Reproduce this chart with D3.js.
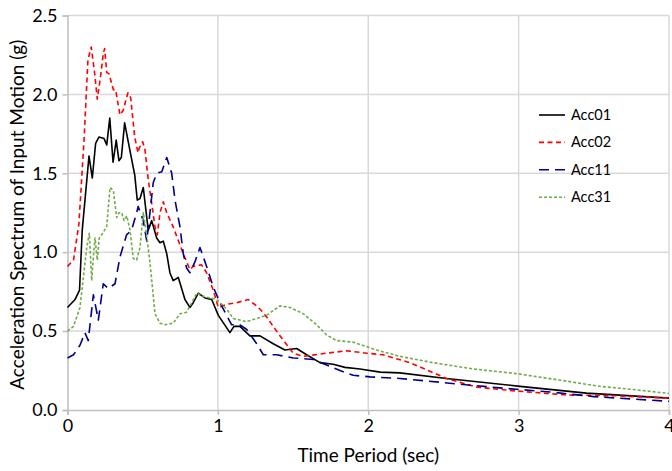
<!DOCTYPE html>
<html>
<head>
<meta charset="utf-8">
<script src="https://cdn.jsdelivr.net/npm/d3@7"></script>
<style>
  html, body { margin: 0; padding: 0; background: #fff; }
  svg { display: block; font-family: Lato, "Open Sans", sans-serif; }
</style>
</head>
<body>
<div id="chart"></div>
<script>
// Response spectra of the input motions: [period (sec), spectral acceleration (g)]
const acc01 = [
  [0.00,0.65],[0.05,0.70],[0.08,0.76],[0.098,1.14],[0.143,1.61],[0.165,1.47],[0.187,1.69],
  [0.209,1.73],[0.243,1.72],[0.261,1.68],[0.281,1.85],[0.303,1.57],[0.324,1.71],[0.342,1.58],
  [0.358,1.60],[0.380,1.82],[0.414,1.65],[0.447,1.49],[0.464,1.33],[0.482,1.34],[0.504,1.41],
  [0.527,1.22],[0.537,1.14],[0.56,1.20],[0.593,1.09],[0.615,1.06],[0.637,1.07],[0.66,0.99],
  [0.681,0.87],[0.703,0.82],[0.737,0.84],[0.781,0.70],[0.814,0.65],[0.836,0.68],[0.87,0.74],
  [0.914,0.71],[0.959,0.70],[1.003,0.60],[1.08,0.49],[1.107,0.53],[1.147,0.53],[1.213,0.47],
  [1.28,0.47],[1.368,0.42],[1.446,0.38],[1.524,0.39],[1.59,0.35],[1.679,0.30],[1.767,0.29],
  [1.845,0.27],[1.945,0.26],[2.08,0.24],[2.21,0.235],[2.52,0.20],[3.01,0.15],[3.45,0.107],[4.0,0.075]
];
const acc02 = [
  [0.00,0.91],[0.04,0.95],[0.076,1.18],[0.11,1.71],[0.136,2.22],[0.158,2.30],[0.181,2.13],
  [0.198,1.97],[0.221,2.12],[0.238,2.26],[0.247,2.29],[0.261,2.14],[0.276,2.13],[0.305,2.03],
  [0.32,2.03],[0.349,1.87],[0.371,1.90],[0.387,1.96],[0.402,2.01],[0.42,1.98],[0.447,1.73],
  [0.469,1.63],[0.477,1.66],[0.50,1.70],[0.515,1.65],[0.537,1.46],[0.56,1.31],[0.582,1.16],
  [0.597,1.11],[0.615,1.25],[0.637,1.32],[0.66,1.25],[0.703,1.16],[0.77,0.99],[0.814,0.89],
  [0.836,0.91],[0.892,0.92],[0.925,0.87],[0.969,0.76],[1.003,0.65],[1.058,0.67],[1.125,0.68],
  [1.202,0.70],[1.258,0.66],[1.30,0.62],[1.324,0.59],[1.39,0.50],[1.501,0.36],[1.568,0.34],
  [1.723,0.36],[1.856,0.375],[1.99,0.36],[2.098,0.35],[2.277,0.30],[2.52,0.20],[2.72,0.145],
  [2.99,0.12],[3.32,0.095],[3.65,0.09],[4.0,0.075]
];
const acc11 = [
  [0.00,0.33],[0.04,0.35],[0.083,0.41],[0.116,0.49],[0.138,0.44],[0.172,0.73],[0.205,0.57],
  [0.238,0.80],[0.271,0.77],[0.316,0.80],[0.349,0.97],[0.393,1.11],[0.426,1.14],[0.46,1.25],
  [0.47,1.29],[0.504,1.20],[0.527,1.07],[0.553,1.29],[0.57,1.44],[0.594,1.50],[0.627,1.51],
  [0.66,1.60],[0.693,1.50],[0.715,1.33],[0.748,1.16],[0.77,0.99],[0.792,0.90],[0.814,0.87],
  [0.848,0.94],[0.881,1.03],[0.903,0.97],[0.925,0.91],[0.969,0.78],[1.014,0.68],[1.058,0.60],
  [1.092,0.54],[1.147,0.54],[1.192,0.51],[1.258,0.42],[1.302,0.35],[1.39,0.35],[1.502,0.33],
  [1.635,0.32],[1.723,0.285],[1.812,0.25],[1.90,0.22],[2.012,0.21],[2.21,0.20],[2.54,0.17],
  [2.876,0.14],[3.21,0.114],[3.5,0.085],[4.0,0.055]
];
const acc31 = [
  [0.00,0.50],[0.04,0.53],[0.083,0.65],[0.128,1.03],[0.145,1.12],[0.161,0.82],[0.172,0.97],
  [0.183,1.09],[0.198,0.95],[0.211,1.09],[0.227,1.11],[0.26,1.16],[0.283,1.41],[0.305,1.39],
  [0.327,1.22],[0.342,1.25],[0.36,1.25],[0.376,1.20],[0.394,1.23],[0.416,1.14],[0.437,0.96],
  [0.46,0.95],[0.482,1.03],[0.504,1.25],[0.522,1.14],[0.549,0.93],[0.582,0.61],[0.615,0.55],
  [0.648,0.54],[0.703,0.55],[0.748,0.61],[0.792,0.62],[0.826,0.68],[0.859,0.74],[0.903,0.72],
  [0.992,0.70],[1.058,0.64],[1.102,0.58],[1.19,0.56],[1.324,0.60],[1.413,0.66],[1.48,0.65],
  [1.568,0.61],[1.657,0.54],[1.723,0.475],[1.79,0.44],[1.90,0.43],[2.056,0.38],[2.21,0.34],
  [2.43,0.30],[2.70,0.26],[2.99,0.23],[3.27,0.19],[3.54,0.15],[3.76,0.13],[4.0,0.105]
];

const seriesNames = ["Acc01", "Acc02", "Acc11", "Acc31"];
const seriesData = [acc01, acc02, acc11, acc31];
const xTicks = [0, 1, 2, 3, 4];
const yTicks = [0, 0.5, 1.0, 1.5, 2.0, 2.5];

// Stroke style per series
const styles = [
  { color: "#000000", dash: null,    width: 1.6 },
  { color: "#ff0000", dash: "5,3.5", width: 1.6 },
  { color: "#00008c", dash: "10,6",  width: 1.6 },
  { color: "#70ad47", dash: "3,2",   width: 1.6 }
];

const W = 672, H = 471;
const margin = { left: 67.5, right: 3, top: 15.5, bottom: 61 };

const svg = d3.select("#chart").append("svg").attr("width", W).attr("height", H);

const x = d3.scaleLinear().domain([0, 4]).range([margin.left, W - margin.right]);
const y = d3.scaleLinear().domain([0, 2.5]).range([H - margin.bottom, margin.top]);

// Gridlines
svg.append("g").selectAll("line.v").data(xTicks.filter(d => d > 0)).join("line")
  .attr("x1", d => x(d)).attr("x2", d => x(d))
  .attr("y1", y(0)).attr("y2", y(2.5))
  .attr("stroke", "#d9d9d9").attr("stroke-width", 1.5);
svg.append("g").selectAll("line.h").data(yTicks.filter(d => d > 0)).join("line")
  .attr("x1", x(0)).attr("x2", x(4))
  .attr("y1", d => y(d)).attr("y2", d => y(d))
  .attr("stroke", "#d9d9d9").attr("stroke-width", 1.5);

// Axes
const xAxis = d3.axisBottom(x).tickValues(xTicks).tickFormat(d3.format("d")).tickSize(5).tickPadding(4);
const yAxis = d3.axisLeft(y).tickValues(yTicks).tickFormat(d3.format(".1f")).tickSize(5).tickPadding(5);

const gx = svg.append("g").attr("transform", `translate(0,${y(0)})`).call(xAxis);
const gy = svg.append("g").attr("transform", `translate(${x(0)},0)`).call(yAxis);
[gx, gy].forEach(g => {
  g.select(".domain").attr("stroke", "#bfbfbf").attr("stroke-width", 1.5);
  g.selectAll(".tick line").attr("stroke", "#bfbfbf").attr("stroke-width", 1.5);
  g.selectAll(".tick text").attr("fill", "#000").style("font-size", "18px")
    .style("font-family", "Lato, 'Open Sans', sans-serif");
});

// Series lines
const line = d3.line().x(d => x(d[0])).y(d => y(d[1]));
seriesData.forEach((data, i) => {
  const s = styles[i];
  svg.append("path").datum(data)
    .attr("d", line)
    .attr("fill", "none")
    .attr("stroke", s.color)
    .attr("stroke-width", s.width)
    .attr("stroke-linejoin", "round")
    .attr("stroke-dasharray", s.dash);
});

// Axis titles
svg.append("text")
  .attr("x", (x(0) + x(4)) / 2).attr("y", 462)
  .attr("text-anchor", "middle").style("font-size", "19px")
  .text("Time Period (sec)");
svg.append("text")
  .attr("transform", `translate(24,${(y(0) + y(2.5)) / 2 + 2}) rotate(-90)`)
  .attr("text-anchor", "middle").style("font-size", "19px")
  .text("Acceleration Spectrum of Input Motion (g)");

// Legend
const legend = svg.append("g").attr("transform", "translate(539,115)");
seriesNames.forEach((name, i) => {
  const s = styles[i];
  const g = legend.append("g").attr("transform", `translate(0,${i * 27.4})`);
  g.append("line").attr("x1", 0).attr("x2", 26).attr("y1", 0).attr("y2", 0)
    .attr("stroke", s.color).attr("stroke-width", s.width).attr("stroke-dasharray", s.dash);
  g.append("text").attr("x", 32).attr("y", 0).attr("dy", "0.35em")
    .style("font-size", "14.5px").text(name);
});
</script>
</body>
</html>
